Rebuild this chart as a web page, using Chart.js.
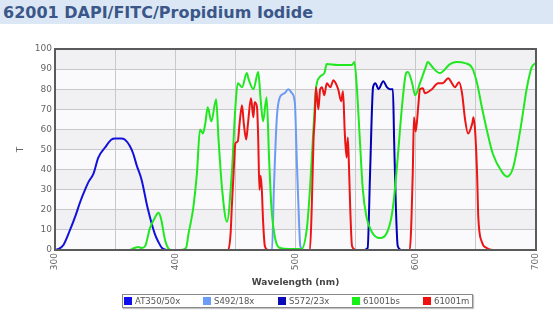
<!DOCTYPE html>
<html><head><meta charset="utf-8">
<script src="https://cdn.jsdelivr.net/npm/chart.js@4"></script>
<style>
body{margin:0;background:#fff;width:553px;height:330px;overflow:hidden;position:relative;font-family:"DejaVu Sans",Verdana,sans-serif;}
#title{position:absolute;left:0;top:0;width:553px;height:24px;background:#dbe7f4;}
#title span{position:absolute;left:3px;top:3px;font-weight:bold;font-size:16px;color:#3b5789;white-space:nowrap;}
#wrap{position:absolute;left:0;top:0;width:553px;height:330px;}
#legend{position:absolute;left:122px;top:294px;width:349px;height:12px;border:1px solid #8a8a8a;box-shadow:1px 1px 1px #c4c4c4;background:#fff;font-size:8.5px;color:#555;}
#legend .it{position:absolute;top:2px;display:flex;align-items:center;white-space:nowrap;line-height:8px;}
#legend .sw{width:8px;height:8px;margin-right:3px;}
</style>
</head><body>
<div id="title"><span>62001 DAPI/FITC/Propidium Iodide</span></div>
<div id="wrap"><canvas id="c" width="553" height="330"></canvas></div>
<div id="legend"></div>
<script>
const seriesNames = ["AT350/50x", "S492/18x", "S572/23x", "61001bs", "61001m"];
const seriesColors = ["#1212dc", "#6b9bf2", "#0000b4", "#1fe81f", "#ec1515"];
const legendColors = ["#1010ee", "#6a9cf8", "#0a0ab8", "#16f016", "#f01010"];

const at350_nm = [300,303,307,312.5,317,321,325,328,332,336,341.6,347,350,355,358,362,365,368,372,377,383,386,389,392,395];
const at350_T  = [0,0.5,2.5,10,17,24,30,34,38,46,51,55,55.5,55.5,55,52,48,42,35,21,8,4,1,0.2,0];

const s492_nm = [478,480.5,482,484.5,487,491,494,497,499.5,501,502.5,504,506];
const s492_T  = [0,0,30,66,76,78,80,78,73,46,21,2,0];

const s572_nm = [557,560,562,564.5,566.5,569,573,576,578.5,581,582,583.5,585,588];
const s572_T  = [0,1,38,81,83,80,84,81,80,80,55,21,2,0];

const bs_nm = [355,362,366,369,372,375,379,383,386,388,391.5,394,397,405,409,411,413,415,418,420.6,423,425,427,430,434,436,439,443,447,450,452,455.5,459.5,461,465,469,471,473,476,478,480,483,487,495,505,509.5,512,515,517,520,524,526,535,540,547,549,551,553.5,556,559,563.5,570,577,581,585,588.5,592,593.5,597,599.5,603.5,608,610,614.5,620,628.5,634,641,647,651,655,659,664,671.5,676,681,687,692.5,696.5,700];
const bs_T  = [0,0,1,1.5,1,2,11,16,18.5,16,5,1,0,0,1,8,14,21,38,60,58,63,71,64,75,55,30,14,38,71,83,81,88,85,80,88.5,75,64,76,46,21,6,1,0.5,0.5,11,30,61,80,86,88,92.5,92,92,92,93.5,81,55,30,16.5,9,6,10,21,46,71,88,88.5,83,77,83,90.5,93.5,90.5,88,92.5,93.5,93,90.5,83,71,60,48,39,36.5,41,60,81,91,93];

const m_nm = [440,444,446,447,448.5,450,452,453.5,455.5,457,459,460.5,463,465,466,468,469,470,471,472,473,474.5,477,508,512,513.5,515,516,517,519,520.5,522,524,526,529,531.5,533,535.5,538,539.5,541,542.5,543.5,544.5,545.5,547,550,592,595,597.5,598.5,600,602,603.5,606,607.5,613.5,618.5,622.5,627,630,632.5,636,638.5,641,643.5,647,648,649.5,651,652,655,659,664,670];
const m_T  = [0,0,8,21,38,53,54,63,72,63,55,63,75.5,66,73.5,71,55,30,37,30,15,2,0,0,0,21,55,65,81,70,80,81,77,83,81,84.5,83.5,80,74,79,58,46,56,41,21,2,0,0,0,38,66,59,71,80,80.5,78,80,83,83,85.5,83,81,83.5,78,65,58,63,66,58,38,16.5,4,1,0,0];

const xTicks = [300, 400, 500, 600, 700];
const yTicks = [0,10,20,30,40,50,60,70,80,90,100];

const seriesX = [at350_nm, s492_nm, s572_nm, bs_nm, m_nm];
const seriesY = [at350_T, s492_T, s572_T, bs_T, m_T];

const datasets = seriesNames.map((n, i) => ({
  label: n,
  data: seriesX[i].map((x, j) => ({x: x, y: seriesY[i][j]})),
  borderColor: seriesColors[i],
  backgroundColor: seriesColors[i],
  borderWidth: 2,
  pointRadius: 0,
  fill: false,
  cubicInterpolationMode: 'monotone',
  showLine: true,
  order: 5 - i
}));

const bandsPlugin = {
  id: 'bands',
  beforeDraw(chart) {
    const {ctx, chartArea: a, scales: {y}} = chart;
    ctx.save();
    for (let v = 0; v < 100; v += 10) {
      const y1 = y.getPixelForValue(v + 10), y2 = y.getPixelForValue(v);
      ctx.fillStyle = (v / 10) % 2 === 1 ? '#f1f1f4' : '#fafafc';
      ctx.fillRect(a.left, y1, a.right - a.left, y2 - y1);
    }
    ctx.restore();
  },
  afterDraw(chart) {
    const {ctx, chartArea: a} = chart;
    ctx.save();
    ctx.strokeStyle = '#5a5a5a';
    ctx.lineWidth = 2;
    ctx.strokeRect(a.left, a.top, a.right - a.left, a.bottom - a.top);
    ctx.restore();
  }
};

new Chart(document.getElementById('c'), {
  type: 'scatter',
  data: {datasets},
  plugins: [bandsPlugin],
  options: {
    responsive: false,
    animation: false,
    layout: {padding: {top: 49, right: 17, bottom: 40, left: 15}},
    plugins: {legend: {display: false}, tooltip: {enabled: false}},
    scales: {
      x: {
        type: 'linear', min: 300, max: 700,
        afterFit(s) { s.height = 40; },
        afterBuildTicks(s) { s.ticks = []; for (let v = 300; v <= 700; v += 50) s.ticks.push({value: v}); },
        ticks: {
          callback: v => xTicks.includes(v) ? String(v) : '',
          minRotation: 90, maxRotation: 90, autoSkip: false, padding: 3,
          font: {family: 'DejaVu Sans', size: 9}, color: '#666'
        },
        grid: {color: '#c8c8c8', drawTicks: false},
        border: {display: false},
        title: {display: true, text: 'Wavelength (nm)', font: {family: 'DejaVu Sans', size: 9, weight: 'bold'}, color: '#444', padding: {top: 0, bottom: 2}}
      },
      y: {
        min: 0, max: 100,
        afterFit(s) { s.width = 40; },
        afterBuildTicks(s) { s.ticks = yTicks.map(v => ({value: v})); },
        ticks: {padding: 3, font: {family: 'DejaVu Sans', size: 9}, color: '#666'},
        grid: {color: '#c8c8c8', drawTicks: false},
        border: {display: false},
        title: {display: true, text: 'T', font: {family: 'DejaVu Sans', size: 9}, color: '#666', padding: 0}
      }
    }
  }
});

const lg = document.getElementById('legend');
const legendLeft = [1, 80, 155, 229, 300];
seriesNames.forEach((n, i) => {
  const it = document.createElement('div');
  it.className = 'it';
  it.style.left = legendLeft[i] + 'px';
  const sw = document.createElement('div');
  sw.className = 'sw';
  sw.style.background = legendColors[i];
  const t = document.createElement('span');
  t.textContent = n;
  it.appendChild(sw); it.appendChild(t);
  lg.appendChild(it);
});
</script>
</body></html>
